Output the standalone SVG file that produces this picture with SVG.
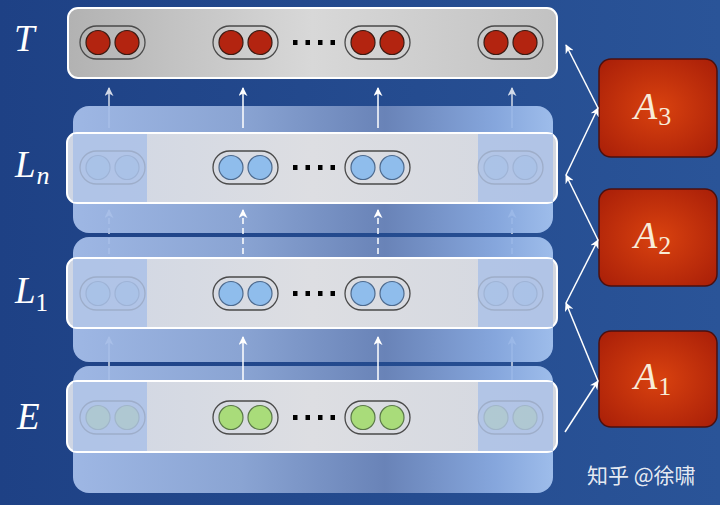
<svg xmlns="http://www.w3.org/2000/svg" width="720" height="505" viewBox="0 0 720 505">
<defs>
<linearGradient id="bg" x1="0" y1="0" x2="1" y2="0"><stop offset="0" stop-color="#1e4185"/><stop offset="1" stop-color="#2a5498"/></linearGradient>
<linearGradient id="gT" x1="0" y1="0" x2="1" y2="0"><stop offset="0" stop-color="#b2b2b2"/><stop offset="0.5" stop-color="#d8d8d8"/><stop offset="1" stop-color="#c2c2c2"/></linearGradient>
<linearGradient id="gP" x1="0" y1="0" x2="1" y2="0"><stop offset="0" stop-color="#cfd6e4"/><stop offset="0.5" stop-color="#dddee2"/><stop offset="1" stop-color="#d3d7e0"/></linearGradient>
<linearGradient id="gB" x1="0" y1="0" x2="1" y2="0"><stop offset="0" stop-color="#a9c1ec"/><stop offset="0.35" stop-color="#93acd9"/><stop offset="0.65" stop-color="#6f88bb"/><stop offset="0.88" stop-color="#8eaee3"/><stop offset="1" stop-color="#a8c6f2"/></linearGradient>
<radialGradient id="gA" cx="0.5" cy="0.5" r="0.7"><stop offset="0" stop-color="#d9420f"/><stop offset="1" stop-color="#a81e08"/></radialGradient>
<marker id="ah" viewBox="0 0 10 10" refX="9" refY="5" markerWidth="9" markerHeight="9" markerUnits="userSpaceOnUse" orient="auto"><path d="M0,0 L10,5 L0,10 L3,5 z" fill="#ffffff"/></marker>
<g id="pR"><rect x="0" y="0" width="65" height="33" rx="16.5" class="pill"/><circle cx="18" cy="16.5" r="12" fill="#b32410" stroke="#3b1a12" stroke-width="1.2"/><circle cx="47" cy="16.5" r="12" fill="#b32410" stroke="#3b1a12" stroke-width="1.2"/></g>
<g id="pB"><rect x="0" y="0" width="65" height="33" rx="16.5" class="pill"/><circle cx="18" cy="16.5" r="12" fill="#8fbdec" stroke="#4d6a8e" stroke-width="1.2"/><circle cx="47" cy="16.5" r="12" fill="#8fbdec" stroke="#4d6a8e" stroke-width="1.2"/></g>
<g id="pG"><rect x="0" y="0" width="65" height="33" rx="16.5" class="pill"/><circle cx="18" cy="16.5" r="12" fill="#a9dc7a" stroke="#5a7848" stroke-width="1.2"/><circle cx="47" cy="16.5" r="12" fill="#a9dc7a" stroke="#5a7848" stroke-width="1.2"/></g>
<g id="dots"><rect x="0" y="0" width="4.5" height="5"/><rect x="12.5" y="0" width="4.5" height="5"/><rect x="25" y="0" width="4.5" height="5"/><rect x="37.5" y="0" width="4.5" height="5"/></g>
</defs>
<style>
.pill{fill:none;stroke:#4a4a4a;stroke-width:1.3}
.panel{stroke:#ffffff;stroke-width:2;fill:url(#gP)}
.band{fill:url(#gB);opacity:0.92}
.col{fill:#a2bce8;opacity:0.7}
.faded{opacity:0.18}
.lbl{font-family:"Liberation Serif",serif;font-style:italic;fill:#ffffff;font-size:37px}
.sub{font-style:normal;font-size:25px}
.sub-i{font-size:26px}
.abox{fill:url(#gA);stroke:#4a1010;stroke-width:1.5}
.atxt{font-family:"Liberation Serif",serif;font-style:italic;fill:#f8ecd8;font-size:38px}
.asub{font-style:normal;font-size:26px}
.arr{stroke:#ffffff;stroke-width:1.5;fill:none;marker-end:url(#ah)}
.dash{stroke-dasharray:6 4}
.side{opacity:0.8}
</style>
<rect x="0" y="0" width="720" height="505" fill="url(#bg)"/>

<g id="side-connectors" class="side">
<line class="arr" x1="109" y1="128" x2="109" y2="88"/>
<line class="arr" x1="512" y1="128" x2="512" y2="88"/>
<line class="arr dash" x1="109" y1="254" x2="109" y2="210"/>
<line class="arr dash" x1="512" y1="254" x2="512" y2="210"/>
<line class="arr" x1="109" y1="380" x2="109" y2="337"/>
<line class="arr" x1="512" y1="380" x2="512" y2="337"/>
</g>

<g id="T">
<rect x="68" y="8" width="489" height="70" rx="10" fill="url(#gT)" stroke="#ffffff" stroke-width="2"/>
<use href="#pR" x="80" y="26"/>
<use href="#pR" x="213" y="26"/>
<use href="#dots" x="293" y="40"/>
<use href="#pR" x="345" y="26"/>
<use href="#pR" x="478" y="26"/>
</g>

<g id="Ln">
<rect class="band" x="73" y="106" width="480" height="127" rx="16"/>
<rect class="panel" x="67" y="133" width="490" height="70" rx="10"/>
<rect class="col" x="73" y="134" width="74" height="68"/>
<rect class="col" x="478" y="134" width="75" height="68"/>
<use href="#pB" x="80" y="151" class="faded"/>
<use href="#pB" x="478" y="151" class="faded"/>
<use href="#pB" x="213" y="151"/>
<use href="#dots" x="293" y="165"/>
<use href="#pB" x="345" y="151"/>
</g>

<g id="L1">
<rect class="band" x="73" y="237" width="480" height="125" rx="16"/>
<rect class="panel" x="67" y="258" width="490" height="70" rx="10"/>
<rect class="col" x="73" y="259" width="74" height="68"/>
<rect class="col" x="478" y="259" width="75" height="68"/>
<use href="#pB" x="80" y="277" class="faded"/>
<use href="#pB" x="478" y="277" class="faded"/>
<use href="#pB" x="213" y="277"/>
<use href="#dots" x="293" y="291"/>
<use href="#pB" x="345" y="277"/>
</g>

<g id="E">
<rect class="band" x="73" y="366" width="480" height="127" rx="16"/>
<rect class="panel" x="67" y="381" width="490" height="71" rx="10"/>
<rect class="col" x="73" y="382" width="74" height="69"/>
<rect class="col" x="478" y="382" width="75" height="69"/>
<use href="#pG" x="80" y="401" class="faded"/>
<use href="#pG" x="478" y="401" class="faded"/>
<use href="#pG" x="213" y="401"/>
<use href="#dots" x="293" y="415"/>
<use href="#pG" x="345" y="401"/>
</g>

<g id="A3"><rect class="abox" x="599" y="59" width="118" height="98" rx="12"/><text class="atxt" x="634" y="119">A<tspan class="asub" dx="1" dy="6">3</tspan></text></g>
<g id="A2"><rect class="abox" x="599" y="189" width="118" height="97" rx="12"/><text class="atxt" x="634" y="248">A<tspan class="asub" dx="1" dy="6">2</tspan></text></g>
<g id="A1"><rect class="abox" x="599" y="331" width="118" height="96" rx="12"/><text class="atxt" x="634" y="389">A<tspan class="asub" dx="1" dy="6">1</tspan></text></g>

<g id="connectors">
<line class="arr" x1="243" y1="128" x2="243" y2="88"/>
<line class="arr" x1="378" y1="128" x2="378" y2="88"/>
<line class="arr dash" x1="243" y1="254" x2="243" y2="210"/>
<line class="arr dash" x1="378" y1="254" x2="378" y2="210"/>
<line class="arr" x1="243" y1="380" x2="243" y2="337"/>
<line class="arr" x1="378" y1="380" x2="378" y2="337"/>
<line class="arr" x1="565" y1="432" x2="598" y2="381"/>
<line class="arr" x1="598" y1="381" x2="566" y2="303"/>
<line class="arr" x1="566" y1="303" x2="598" y2="240"/>
<line class="arr" x1="598" y1="240" x2="566" y2="175"/>
<line class="arr" x1="566" y1="175" x2="598" y2="108"/>
<line class="arr" x1="598" y1="108" x2="566" y2="45"/>
</g>

<g id="labels">
<text class="lbl" x="14" y="51">T</text>
<text class="lbl" x="15" y="177">L<tspan class="sub-i" dx="1" dy="7">n</tspan></text>
<text class="lbl" x="15" y="303">L<tspan class="sub" dx="0" dy="8">1</tspan></text>
<text class="lbl" x="17" y="429">E</text>
</g>

<text x="587" y="483" font-family="'Noto Sans CJK SC','Noto Sans',sans-serif" font-size="21" fill="#ffffff" fill-opacity="0.9">知乎 @徐啸</text>
</svg>
